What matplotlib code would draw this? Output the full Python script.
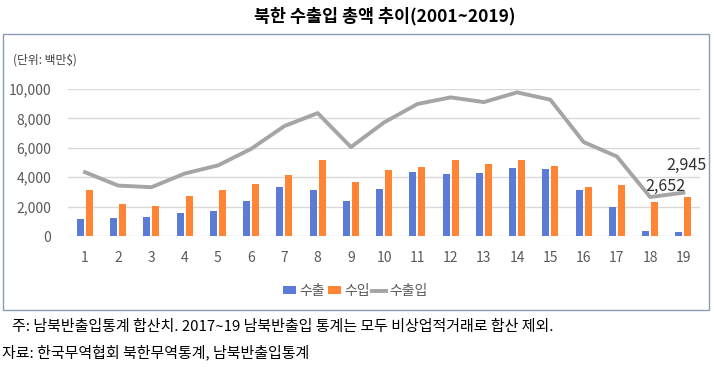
import matplotlib.pyplot as plt
from matplotlib.patches import Rectangle

plt.rcParams['font.family'] = ['Noto Sans CJK KR', 'DejaVu Sans']

# data (unit: million $)
years = list(range(1, 20))
exports = [1160, 1250, 1270, 1550, 1700, 2360, 3320, 3140, 2390, 3180,
           4340, 4250, 4270, 4640, 4570, 3110, 2000, 320, 260]
imports = [3160, 2180, 2070, 2700, 3110, 3550, 4180, 5200, 3700, 4500,
           4660, 5200, 4910, 5180, 4750, 3320, 3450, 2332, 2685]
total = [4340, 3430, 3320, 4250, 4800, 5930, 7480, 8360, 6050, 7730,
         8980, 9430, 9110, 9770, 9270, 6390, 5410, 2652, 2945]
yticks = [0, 2000, 4000, 6000, 8000, 10000]
labels = ['수출', '수입', '수출입']

W, H = 714, 371
fig = plt.figure(figsize=(W / 100, H / 100), dpi=100)
ax = fig.add_axes([68 / W, 1 - 236 / H, (700 - 68) / W, (236 - 89) / H])

bw = 0.21
b1 = ax.bar([x - 0.135 for x in years], exports, width=bw, color='#5B7BD6', label=labels[0], zorder=3)
b2 = ax.bar([x + 0.135 for x in years], imports, width=bw, color='#FF8534', label=labels[1], zorder=3)
ln, = ax.plot(years, total, color='#A5A5A5', lw=2.8, label=labels[2], zorder=4)

# data labels for the last two points
ax.annotate(f'{total[17]:,}', (years[17], total[17]), xytext=(11, 7.5), textcoords='offset points',
            ha='center', va='center', fontsize=11.5, color='#303030')
ax.annotate(f'{total[18]:,}', (years[18], total[18]), xytext=(2, 19.5), textcoords='offset points',
            ha='center', va='center', fontsize=11.5, color='#303030')

ax.set_xlim(0.49, 19.5)
ax.set_ylim(0, 10000)
ax.set_xticks(years)
ax.set_yticks(yticks)
ax.set_yticklabels([f'{v:,}' for v in yticks])
ax.tick_params(length=0, labelsize=10, colors='#595959')
ax.tick_params(axis='x', pad=11)
ax.tick_params(axis='y', pad=12)
ax.grid(axis='y', color='#D9D9D9', lw=1, zorder=0)
for s in ax.spines.values():
    s.set_visible(False)

fig.legend([b1, b2, ln], labels, loc='center', bbox_to_anchor=(355 / W, 1 - 291 / H), ncol=3,
           frameon=False, fontsize=10, handlelength=1.0, handleheight=0.5, handletextpad=0.2,
           columnspacing=0.2, labelcolor='#595959')

# outer box
fig.patches.append(Rectangle((3 / W, 1 - 310 / H), (709 - 3) / W, (310 - 34) / H,
                             transform=fig.transFigure, fill=False, ec='#8A9BB5', lw=1))

fig.text(385 / W, 1 - 16 / H, '북한 수출입 총액 추이(2001~2019)', ha='center', va='center',
         fontsize=12.5, fontweight='bold')
fig.text(13 / W, 1 - 60 / H, '(단위: 백만$)', ha='left', va='center', fontsize=8.5, color='#404040')
fig.text(12 / W, 1 - 327 / H, '주: 남북반출입통계 합산치. 2017~19 남북반출입 통계는 모두 비상업적거래로 합산 제외.',
         ha='left', va='center', fontsize=10.8)
fig.text(2 / W, 1 - 352 / H, '자료: 한국무역협회 북한무역통계, 남북반출입통계',
         ha='left', va='center', fontsize=10.8)

fig.savefig('out.png', dpi=100)
